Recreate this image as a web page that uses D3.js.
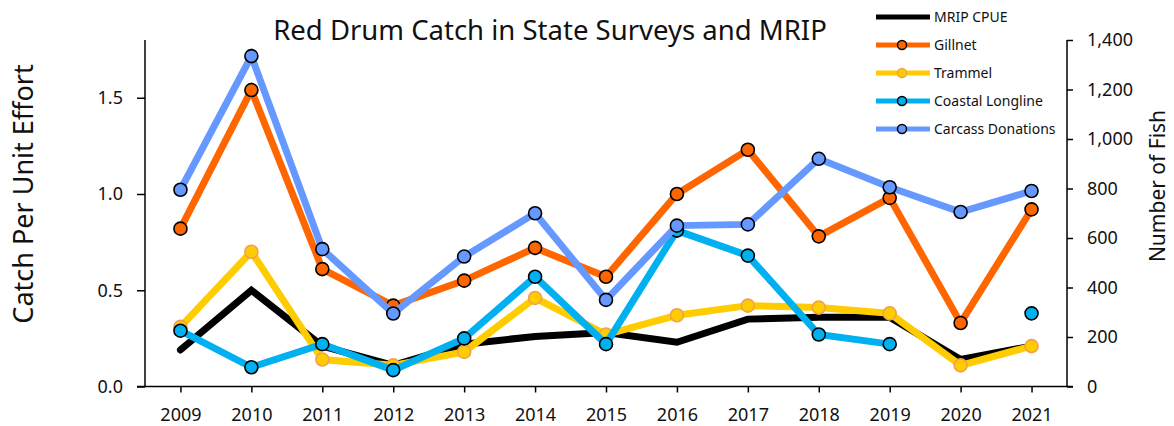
<!DOCTYPE html>
<html lang="en">
<head>
  <meta charset="UTF-8">
  <title>Red Drum Catch in State Surveys and MRIP</title>
  <script src="https://d3js.org/d3.v7.min.js"></script>
  <style>
    body { margin: 0; background: #fff; }
    .chart { display: block; font-family: "Noto Sans", "Open Sans", sans-serif; }
    .axis path, .axis line { stroke: #000; stroke-width: 1.5px; }
    .axis text { font-size: 18px; fill: #111; font-family: "Noto Sans", sans-serif; }
  </style>
</head>
<body>
  <svg class="chart" width="1174" height="426"></svg>

  <script>
    // Data
    const years = ["2009", "2010", "2011", "2012", "2013", "2014", "2015",
                   "2016", "2017", "2018", "2019", "2020", "2021"];

    // Catch per unit effort (left axis)
    const mripCpue   = [0.19, 0.50, 0.21, 0.11, 0.22, 0.26, 0.28, 0.23, 0.35, 0.36, 0.36, 0.14, 0.21];
    const gillnet    = [0.82, 1.54, 0.61, 0.42, 0.55, 0.72, 0.57, 1.00, 1.23, 0.78, 0.98, 0.33, 0.92];
    const trammel    = [0.31, 0.70, 0.14, 0.11, 0.18, 0.46, 0.27, 0.37, 0.42, 0.41, 0.38, 0.11, 0.21];
    const longline   = [0.29, 0.10, 0.22, 0.085, 0.25, 0.57, 0.22, 0.81, 0.68, 0.27, 0.22, null, 0.38];

    // Number of fish (right axis)
    const carcass    = [795, 1335, 555, 295, 525, 700, 350, 650, 655, 920, 805, 705, 790];

    const leftTicks  = [0, 0.5, 1.0, 1.5];
    const rightTicks = [0, 200, 400, 600, 800, 1000, 1200, 1400];

    const svg = d3.select(".chart");
    const plot = { left: 145, right: 1067, top: 40, bottom: 386.5 };

    const x = d3.scalePoint().domain(years).range([plot.left, plot.right]).padding(0.5);
    const yLeft = d3.scaleLinear().domain([0, 1.8]).range([plot.bottom, plot.top]);
    const yRight = d3.scaleLinear().domain([0, 1400]).range([plot.bottom, plot.top]);

    // series in drawing order (first one ends up underneath)
    const series = [
      { name: "MRIP CPUE", values: mripCpue, scale: yLeft, color: "#000000", markers: false },
      { name: "Trammel", values: trammel, scale: yLeft, color: "#FFCC00", markers: true, edge: "#F0A050" },
      { name: "Coastal Longline", values: longline, scale: yLeft, color: "#00B0F0", markers: true, edge: "#000" },
      { name: "Gillnet", values: gillnet, scale: yLeft, color: "#FF6600", markers: true, edge: "#000" },
      { name: "Carcass Donations", values: carcass, scale: yRight, color: "#6699FF", markers: true, edge: "#000" }
    ];
    const legendOrder = ["MRIP CPUE", "Gillnet", "Trammel", "Coastal Longline", "Carcass Donations"];

    // Axes
    svg.append("g")
      .attr("class", "axis y-left")
      .attr("transform", `translate(${plot.left},0)`)
      .call(d3.axisLeft(yLeft).tickValues(leftTicks).tickFormat(d3.format(".1f"))
        .tickSizeInner(8).tickSizeOuter(0).tickPadding(14));

    svg.append("g")
      .attr("class", "axis y-right")
      .attr("transform", `translate(${plot.right},0)`)
      .call(d3.axisRight(yRight).tickValues(rightTicks).tickFormat(d3.format(","))
        .tickSizeInner(6).tickSizeOuter(0).tickPadding(14));

    const xAxis = svg.append("g")
      .attr("class", "axis x")
      .attr("transform", `translate(0,${plot.bottom})`)
      .call(d3.axisBottom(x).tickSizeInner(6).tickSizeOuter(0).tickPadding(16));
    // the x axis line runs a little past both vertical axes
    xAxis.select(".domain").attr("d", `M${plot.left - 8},0H${plot.right + 6}`);
    svg.select(".y-left .domain").attr("d", `M0,${plot.top}V${plot.bottom}`);
    svg.select(".y-right .domain").attr("d", `M0,${plot.top}V${plot.bottom}`);

    // Lines and markers
    series.forEach(s => {
      const pts = years.map((yr, i) => ({ yr, v: s.values[i] }));
      const line = d3.line()
        .defined(d => d.v !== null)
        .x(d => x(d.yr))
        .y(d => s.scale(d.v));

      const g = svg.append("g").attr("class", "series");
      g.append("path")
        .datum(pts)
        .attr("fill", "none")
        .attr("stroke", s.color)
        .attr("stroke-width", 7)
        .attr("stroke-linecap", s.markers ? "butt" : "round")
        .attr("stroke-linejoin", "miter")
        .attr("d", line);

      if (s.markers) {
        g.selectAll("circle")
          .data(pts.filter(d => d.v !== null))
          .join("circle")
          .attr("cx", d => x(d.yr))
          .attr("cy", d => s.scale(d.v))
          .attr("r", 6.5)
          .attr("fill", s.color)
          .attr("stroke", s.edge)
          .attr("stroke-width", 1.6);
      }
    });

    // Title
    svg.append("text")
      .attr("x", 550)
      .attr("y", 40)
      .attr("text-anchor", "middle")
      .attr("font-size", 27.5)
      .attr("fill", "#111")
      .text("Red Drum Catch in State Surveys and MRIP");

    // Axis titles
    svg.append("text")
      .attr("transform", "translate(33,194) rotate(-90)")
      .attr("text-anchor", "middle")
      .attr("font-size", 27)
      .attr("fill", "#111")
      .text("Catch Per Unit Effort");

    svg.append("text")
      .attr("transform", "translate(1165,186) rotate(-90)")
      .attr("text-anchor", "middle")
      .attr("font-size", 21)
      .attr("fill", "#111")
      .text("Number of Fish");

    // Legend
    const legend = svg.append("g").attr("class", "legend").attr("transform", "translate(876,17)");
    legendOrder.forEach((name, i) => {
      const s = series.find(d => d.name === name);
      const row = legend.append("g").attr("transform", `translate(0,${i * 28})`);
      row.append("line")
        .attr("x1", 0).attr("x2", 54)
        .attr("stroke", s.color)
        .attr("stroke-width", 5);
      if (s.markers) {
        row.append("circle")
          .attr("cx", 26).attr("r", 4.5)
          .attr("fill", s.color)
          .attr("stroke", s.edge)
          .attr("stroke-width", 1.5);
      }
      row.append("text")
        .attr("x", 58)
        .attr("dy", "0.35em")
        .attr("font-size", 14)
        .attr("fill", "#111")
        .text(name);
    });
  </script>
</body>
</html>
